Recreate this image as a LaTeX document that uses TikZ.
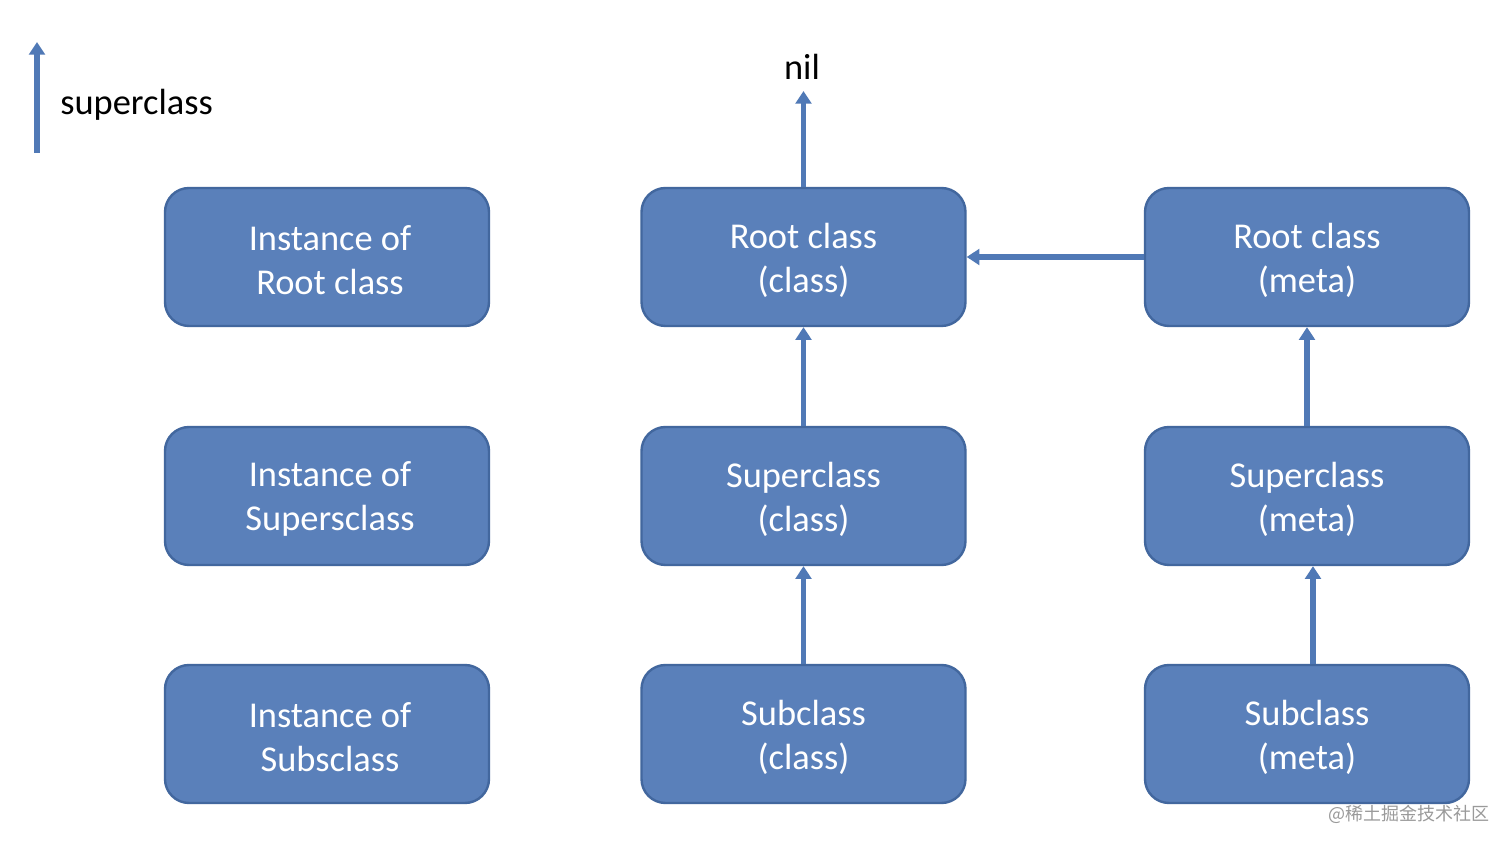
\documentclass[tikz,border=0pt]{standalone}
\usepackage{fontspec}
\setmainfont{Carlito}
\newfontfamily\cjk{Noto Sans CJK SC}
\usetikzlibrary{arrows.meta}
\definecolor{boxfill}{HTML}{5A80BA}
\definecolor{boxline}{HTML}{42679E}
\definecolor{arrowc}{HTML}{5079B6}
\definecolor{wmark}{HTML}{9A9A9A}
\tikzset{
  classbox/.style={draw=boxline, line width=1.2pt, fill=boxfill, rounded corners=12pt,
    minimum width=162pt, minimum height=69pt, inner sep=0pt},
  boxtext/.style={align=center, text=white, inner sep=0pt, yshift=-1.5pt,
    font=\fontsize{18.2pt}{22pt}\selectfont},
  suparrow/.style={draw=arrowc, line width=2.6pt, -{Triangle[width=7.8pt,length=6.3pt]}},
  plaintext/.style={font=\fontsize{18.2pt}{22pt}\selectfont, text=black, inner sep=0pt}
}
\begin{document}
\begin{tikzpicture}[x=0.5pt,y=-0.5pt]
\useasboundingbox[fill=white] (0,0) rectangle (1512,849);
% boxes
\node[classbox] (i1) at (327,257) {};
\node[classbox] (i2) at (327,496) {};
\node[classbox] (i3) at (327,734) {};
\node[classbox] (c1) at (803.5,257) {};
\node[classbox] (c2) at (803.5,496) {};
\node[classbox] (c3) at (803.5,734) {};
\node[classbox] (m1) at (1307,257) {};
\node[classbox] (m2) at (1307,496) {};
\node[classbox] (m3) at (1307,734) {};
\node[boxtext, xshift=1.5pt] (ti1) at (i1.center) {Instance of\\Root class};
\node[boxtext, xshift=1.5pt] (ti2) at (i2.center) {Instance of\\Supersclass};
\node[boxtext, xshift=1.5pt] (ti3) at (i3.center) {Instance of\\Subsclass};
\node[boxtext] (tc1) at (c1.center) {Root class\\(class)};
\node[boxtext] (tc2) at (c2.center) {Superclass\\(class)};
\node[boxtext] (tc3) at (c3.center) {Subclass\\(class)};
\node[boxtext] (tm1) at (m1.center) {Root class\\(meta)};
\node[boxtext] (tm2) at (m2.center) {Superclass\\(meta)};
\node[boxtext] (tm3) at (m3.center) {Subclass\\(meta)};
% nil
\node[plaintext, anchor=base] (nil) at (802,80) {nil};
\coordinate (niltip) at (803.5,91);
% legend
\coordinate (lgbot) at (37,153);
\coordinate (lgtop) at (37,42);
\node[plaintext, anchor=base west] (lgtext) at (60,115) {superclass};
% watermark
\node[anchor=base west, text=wmark, font=\cjk\fontsize{9pt}{10pt}\selectfont, inner sep=0pt] (wm) at (1328,821) {@稀土掘金技术社区};
% arrows
\draw[suparrow] (lgbot) -- (lgtop);
\draw[suparrow] (c1.north) -- (niltip);
\draw[suparrow] (m1.west) -- (c1.east);
\draw[suparrow] (c2.north) -- (c1.south);
\draw[suparrow] (c3.north) -- (c2.south);
\draw[suparrow] (m2.north) -- (m1.south);
\draw[suparrow] ([xshift=3]m3.north) -- ([xshift=3]m2.south);
\end{tikzpicture}
\end{document}
